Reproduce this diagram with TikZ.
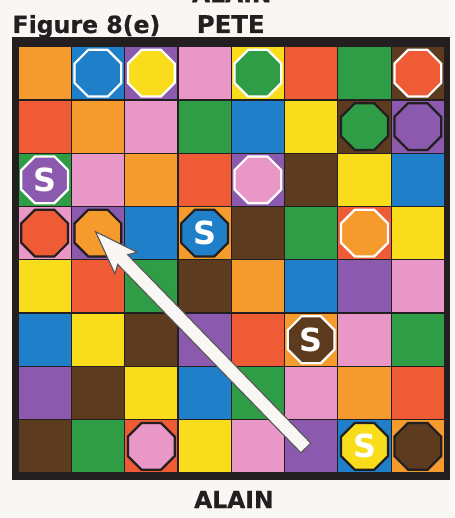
\documentclass[tikz,border=0pt]{standalone}
\usepackage{fontspec}
\usepackage{xcolor}
\usetikzlibrary{shapes.geometric}
\newfontfamily\boardfont{DejaVu Sans}
\newfontfamily\titlefont{DejaVu Sans}[BoldFeatures={FakeBold=0.6}]

\definecolor{sqorange}{HTML}{F59B2E}
\definecolor{sqred}{HTML}{EF5B35}
\definecolor{sqpink}{HTML}{E897C6}
\definecolor{sqpurple}{HTML}{8B5AAE}
\definecolor{sqblue}{HTML}{1F80C9}
\definecolor{sqyellow}{HTML}{F9DC1C}
\definecolor{sqgreen}{HTML}{2F9D45}
\definecolor{sqbrown}{HTML}{5C3B1E}
\definecolor{ink}{HTML}{231F20}
\definecolor{paper}{HTML}{F8F7F3}

\begin{document}
\begin{tikzpicture}[
    octw/.style={regular polygon, regular polygon sides=8, minimum size=0.95cm,
        inner sep=0pt, draw=white, line width=1.2pt},
    octb/.style={octw, draw=ink},
    sletter/.style={text=white, font=\boardfont\bfseries\fontsize{17}{18}\selectfont},
    playername/.style={text=ink, inner sep=0pt, font=\titlefont\bfseries\fontsize{#1}{16}\selectfont}
]

\clip (-0.338,-0.844) rectangle (8.18,8.874);
\fill[paper] (-0.338,-0.844) rectangle (8.18,8.874);

\node[playername=12.6, anchor=base west] (fig) at (-0.11,8.255) {Figure 8(e)};
\node[playername=13, anchor=base] (pete) at (3.99,8.255) {PETE};
\node[playername=12.5, anchor=base] (alain) at (4.05,-0.657) {ALAIN};
\node[playername=12.5, anchor=base] (alaintop) at (4.01,8.83) {ALAIN};

% board
\fill[ink] (-0.113,-0.131) rectangle (8.105,8.18);
\foreach \row [count=\r from 0] in {
    {sqorange,sqblue,sqpurple,sqpink,sqyellow,sqred,sqgreen,sqbrown},
    {sqred,sqorange,sqpink,sqgreen,sqblue,sqyellow,sqbrown,sqpurple},
    {sqgreen,sqpink,sqorange,sqred,sqpurple,sqbrown,sqyellow,sqblue},
    {sqpink,sqpurple,sqblue,sqorange,sqbrown,sqgreen,sqred,sqyellow},
    {sqyellow,sqred,sqgreen,sqbrown,sqorange,sqblue,sqpurple,sqpink},
    {sqblue,sqyellow,sqbrown,sqpurple,sqred,sqorange,sqpink,sqgreen},
    {sqpurple,sqbrown,sqyellow,sqblue,sqgreen,sqpink,sqorange,sqred},
    {sqbrown,sqgreen,sqred,sqyellow,sqpink,sqpurple,sqblue,sqorange}}
    \foreach \col [count=\c from 0] in \row
        \fill[\col] (\c+0.012,7.012-\r) rectangle ++(0.976,0.976);

% octagons
\node[octw, fill=sqblue] (o01) at (1.5,7.5) {};
\node[octw, fill=sqyellow] (o02) at (2.5,7.5) {};
\node[octw, fill=sqgreen] (o04) at (4.5,7.5) {};
\node[octw, fill=sqred] (o07) at (7.5,7.5) {};
\node[octb, fill=sqgreen] (o16) at (6.5,6.5) {};
\node[octb, fill=sqpurple] (o17) at (7.5,6.5) {};
\node[octw, fill=sqpurple, sletter] (o20) at (0.5,5.5) {S};
\node[octw, fill=sqpink] (o24) at (4.5,5.5) {};
\node[octb, fill=sqred] (o30) at (0.5,4.5) {};
\node[octb, fill=sqorange] (o31) at (1.5,4.5) {};
\node[octb, fill=sqblue, sletter] (o33) at (3.5,4.5) {S};
\node[octw, fill=sqorange] (o36) at (6.5,4.5) {};
\node[octw, fill=sqbrown, sletter] (o55) at (5.5,2.5) {S};
\node[octb, fill=sqpink] (o72) at (2.5,0.5) {};
\node[octb, fill=sqyellow, sletter] (o76) at (6.5,0.5) {S};
\node[octb, fill=sqbrown] (o77) at (7.5,0.5) {};

% arrow
\coordinate (tail) at (5.4,0.47);
\begin{scope}[shift={(tail)}, rotate=134.2]
    \draw[fill=paper, draw=ink!75, line width=0.6pt]
        (0,-0.13) -- (4.93,-0.13) -- (4.84,-0.29) -- (5.66,0)
        -- (4.84,0.29) -- (4.93,0.13) -- (0,0.13) -- cycle;
\end{scope}
\end{tikzpicture}
\end{document}
